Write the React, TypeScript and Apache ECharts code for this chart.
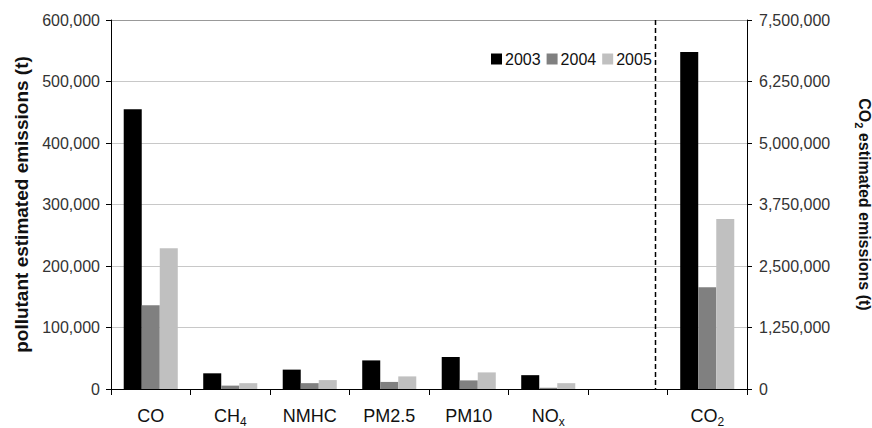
import React, { useEffect, useRef } from 'react';
import * as echarts from 'echarts';

// ---- data ----
const categories = ['CO', 'CH4', 'NMHC', 'PM2.5', 'PM10', 'NOx', '', 'CO2'];
const years = ['2003', '2004', '2005'];
// pollutant estimated emissions (t) — left axis
const pollutant2003 = [455000, 25500, 31500, 46500, 52000, 22500, null, null];
const pollutant2004 = [136000, 5500, 9500, 11500, 14000, 2000, null, null];
const pollutant2005 = [229000, 9500, 14500, 20500, 27000, 9500, null, null];
// CO2 estimated emissions (t) — right axis
const co2_2003 = [null, null, null, null, null, null, null, 6850000];
const co2_2004 = [null, null, null, null, null, null, null, 2070000];
const co2_2005 = [null, null, null, null, null, null, null, 3455000];
const leftTicks = { min: 0, max: 600000, interval: 100000 };
const rightTicks = { min: 0, max: 7500000, interval: 1250000 };

const colors = ['#000000', '#808080', '#c0c0c0'];
const FONT = '"Liberation Sans", Arial, Helvetica, sans-serif';

const subLabel: Record<string, string> = {
  CH4: 'CH{s|4}',
  NOx: 'NO{s|x}',
  CO2: 'CO{s|2}',
};

export default function App() {
  const ref = useRef<HTMLDivElement>(null);
  useEffect(() => {
    if (!ref.current) return;
    const chart = echarts.init(ref.current, null, { renderer: 'svg', width: 872, height: 428 });
    const leftData = [pollutant2003, pollutant2004, pollutant2005];
    const rightData = [co2_2003, co2_2004, co2_2005];
    const series: any[] = [];
    years.forEach((y, i) => {
      series.push({
        type: 'bar',
        name: y,
        stack: 's' + i,
        yAxisIndex: 0,
        data: leftData[i].map((v) => (v === null ? '-' : v)),
        itemStyle: { color: colors[i] },
        barCategoryGap: '32%',
        barGap: '0%',
      });
      series.push({
        type: 'bar',
        name: y,
        stack: 's' + i,
        yAxisIndex: 1,
        data: rightData[i].map((v) => (v === null ? '-' : v)),
        itemStyle: { color: colors[i] },
        barCategoryGap: '32%',
        barGap: '0%',
      });
    });
    const fmt = (v: number) => v.toLocaleString('en-US');
    chart.setOption({
      animation: false,
      textStyle: { fontFamily: FONT },
      grid: { left: 111, right: 125, top: 20, bottom: 39, containLabel: false, outerBoundsMode: 'none' },
      legend: {
        data: years,
        left: 486,
        top: 46,
        icon: 'rect',
        itemWidth: 11,
        itemHeight: 11,
        itemGap: 6,
        textStyle: { fontSize: 16, color: '#111', fontFamily: FONT, padding: [0, 0, 0, -2] },
      },
      xAxis: {
        type: 'category',
        data: categories,
        boundaryGap: true,
        axisLine: { lineStyle: { color: '#000', width: 1 } },
        axisTick: { show: true, length: 6, lineStyle: { color: '#000' }, interval: 0 },
        axisLabel: {
          interval: 0,
          margin: 14,
          fontSize: 18,
          lineHeight: 26,
          color: '#111',
          fontFamily: FONT,
          formatter: (v: string) => subLabel[v] || v,
          rich: {
            s: { fontSize: 12, lineHeight: 14, padding: [12, 0, 0, 0], color: '#111', fontFamily: FONT },
          },
        },
      },
      yAxis: [
        {
          type: 'value',
          min: leftTicks.min,
          max: leftTicks.max,
          interval: leftTicks.interval,
          position: 'left',
          name: 'pollutant estimated emissions (t)',
          nameLocation: 'middle',
          nameGap: 80,
          nameTextStyle: { fontSize: 19, fontWeight: 'bold', color: '#111', fontFamily: FONT },
          axisLine: { show: true, lineStyle: { color: '#000', width: 1 } },
          axisTick: { show: true, length: 5, lineStyle: { color: '#000' } },
          axisLabel: { formatter: fmt, fontSize: 16, color: '#333', margin: 11, fontFamily: FONT },
          splitLine: {
            show: true,
            lineStyle: {
              color: ['#c8c8c8', '#c8c8c8', '#c8c8c8', '#c8c8c8', '#c8c8c8', '#c8c8c8', '#999999'],
              width: 1,
            },
          },
        },
        {
          type: 'value',
          min: rightTicks.min,
          max: rightTicks.max,
          interval: rightTicks.interval,
          position: 'right',
          name: '{b|CO}{s|2}{b| estimated emissions (t)}',
          nameLocation: 'middle',
          nameRotate: -90,
          nameGap: 106,
          nameTextStyle: {
            fontSize: 16,
            fontWeight: 'bold',
            color: '#111',
            fontFamily: FONT,
            rich: {
              b: { fontSize: 16, fontWeight: 'bold', lineHeight: 22, color: '#111', fontFamily: FONT },
              s: { fontSize: 11, fontWeight: 'bold', lineHeight: 12, padding: [10, 0, 0, 0], color: '#111', fontFamily: FONT },
            },
          },
          axisLine: { show: true, lineStyle: { color: '#000', width: 1 } },
          axisTick: { show: true, length: 5, lineStyle: { color: '#000' } },
          axisLabel: { formatter: fmt, fontSize: 16, color: '#333', margin: 12, fontFamily: FONT },
          splitLine: { show: false },
        },
      ],
      series,
    });
    // dashed separator between pollutant group and CO2
    const xa = chart.convertToPixel({ xAxisIndex: 0 }, 6) as number;
    const xb = chart.convertToPixel({ xAxisIndex: 0 }, 7) as number;
    const yTop = chart.convertToPixel({ yAxisIndex: 0 }, leftTicks.max) as number;
    const yBot = chart.convertToPixel({ yAxisIndex: 0 }, leftTicks.min) as number;
    const xs = Math.round(xa + 0.34 * (xb - xa)) + 0.5;
    chart.setOption({
      graphic: [
        {
          type: 'line',
          shape: { x1: xs, y1: yTop, x2: xs, y2: yBot },
          style: { stroke: '#000', lineWidth: 1.5, lineDash: [5, 3] },
          z: 10,
        },
      ],
    });
    return () => chart.dispose();
  }, []);
  return (
    <div
      ref={ref}
      style={{ position: 'fixed', left: 0, top: 0, width: 872, height: 428, background: '#fff' }}
    />
  );
}
